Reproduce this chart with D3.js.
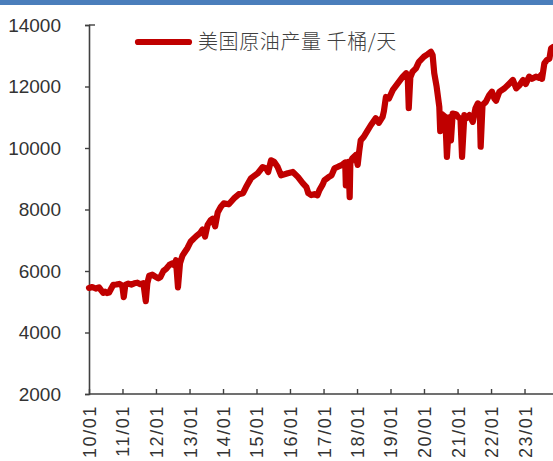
<!DOCTYPE html>
<html>
<head>
<meta charset="utf-8">
<script src="https://cdn.jsdelivr.net/npm/d3@7/dist/d3.min.js"></script>
<style>
  html, body { margin: 0; padding: 0; background: #fff; }
  svg { display: block; }
</style>
</head>
<body>
<svg id="chart" width="553" height="461"></svg>
<script>
// US crude oil field production, thousand barrels per day (weekly readings)
const dates = [
  "2010-01-01","2010-02-05","2010-03-15","2010-04-20","2010-05-12","2010-06-05","2010-06-25","2010-07-17",
  "2010-08-08","2010-08-30","2010-09-22","2010-10-25","2010-11-27","2010-12-30","2011-01-15","2011-02-01",
  "2011-03-05","2011-04-07","2011-05-10","2011-06-12","2011-07-15","2011-08-17","2011-09-12","2011-09-29",
  "2011-10-20","2011-11-22","2011-12-25","2012-01-27","2012-02-18","2012-03-22","2012-04-24","2012-05-27",
  "2012-06-29","2012-07-21","2012-08-06","2012-08-28","2012-09-19","2012-10-16","2012-11-07","2012-12-10",
  "2013-01-12","2013-02-14","2013-03-26","2013-05-01","2013-05-23","2013-06-19","2013-07-17","2013-08-19",
  "2013-09-10","2013-10-07","2013-11-04","2013-12-07","2014-01-09","2014-03-05","2014-04-30","2014-06-24",
  "2014-08-07","2014-09-09","2014-11-03","2015-01-15","2015-03-10","2015-04-15","2015-05-08","2015-06-09",
  "2015-07-12","2015-08-20","2015-09-26","2015-12-08","2016-02-01","2016-03-27","2016-05-21","2016-06-28",
  "2016-07-19","2016-08-21","2016-09-23","2016-10-26","2016-11-17","2016-12-20","2017-01-11","2017-02-24",
  "2017-03-29","2017-05-01","2017-06-14","2017-07-17","2017-08-25","2017-09-01","2017-09-08","2017-09-29",
  "2017-10-13","2017-10-20","2017-11-10","2017-12-17","2018-01-08","2018-01-25","2018-02-10","2018-03-15",
  "2018-04-22","2018-05-31","2018-07-25","2018-08-27","2018-10-07","2018-10-21","2018-11-12","2018-12-15",
  "2019-01-25","2019-03-21","2019-05-15","2019-06-21","2019-07-08","2019-07-19","2019-08-05","2019-08-29",
  "2019-10-05","2019-11-07","2020-01-01","2020-02-10","2020-03-17","2020-04-04","2020-04-22","2020-05-18",
  "2020-06-16","2020-06-26","2020-07-14","2020-08-20","2020-09-07","2020-10-03","2020-10-21","2020-11-09",
  "2020-12-15","2021-01-09","2021-02-02","2021-02-19","2021-03-16","2021-04-03","2021-05-10","2021-06-16",
  "2021-07-15","2021-08-10","2021-08-30","2021-09-10","2021-09-30","2021-11-05","2021-12-12","2022-01-11",
  "2022-02-07","2022-02-25","2022-04-02","2022-05-27","2022-07-21","2022-08-27","2022-10-03","2022-11-09",
  "2022-12-16","2023-01-15","2023-02-21","2023-03-23","2023-05-05","2023-06-08","2023-06-30","2023-07-11",
  "2023-08-05","2023-09-01","2023-09-29","2023-10-18","2023-11-12"
];
const production = [
  5450, 5480, 5430, 5470, 5380, 5290, 5330, 5280,
  5300, 5420, 5550, 5560, 5580, 5520, 5150, 5550,
  5590, 5560, 5600, 5620, 5570, 5600, 5020, 5600,
  5850, 5880, 5820, 5760, 5800, 6000, 6080, 6200,
  6250, 6180, 6350, 5470, 6250, 6500, 6600, 6750,
  6950, 7050, 7160, 7250, 7350, 7120, 7500, 7650,
  7700, 7450, 7900, 8080, 8200, 8170, 8360, 8500,
  8530, 8730, 9020, 9180, 9380, 9340, 9220, 9600,
  9550, 9380, 9110, 9180, 9220, 9060, 8850, 8730,
  8530, 8470, 8500, 8460, 8630, 8800, 8950, 9050,
  9110, 9340, 9400, 9440, 9530, 8780, 9350, 9550,
  8400, 9500, 9660, 9770, 9450, 9900, 10250, 10360,
  10550, 10740, 10970, 10820, 11010, 11200, 11660, 11610,
  11880, 12100, 12320, 12430, 12300, 11300, 12300, 12480,
  12590, 12800, 12970, 13050, 13130, 13020, 12430, 11990,
  11340, 10550, 11100, 11010, 9710, 11000, 10250, 11120,
  11100, 11000, 10950, 9710, 11070, 10960, 11070, 10850,
  11290, 11450, 11400, 10040, 11400, 11500, 11720, 11830,
  11600, 11540, 11830, 11940, 12100, 12210, 11940, 12050,
  12210, 12080, 12320, 12250, 12320, 12280, 12370, 12250,
  12750, 12860, 12900, 13240, 13290
];
const yTicks = [2000, 4000, 6000, 8000, 10000, 12000, 14000];
const tickYears = [2010, 2011, 2012, 2013, 2014, 2015, 2016, 2017, 2018, 2019, 2020, 2021, 2022, 2023];
const seriesName = "美国原油产量 千桶/天";

const parse = d3.timeParse("%Y-%m-%d");
const series = dates.map((d, i) => ({ date: parse(d), value: production[i] }));

const svg = d3.select("#chart");
const axisColor = "#404040";

// header rule
svg.append("rect").attr("x", 0).attr("y", 0).attr("width", 553).attr("height", 5).attr("fill", "#4a7ebb");

const plotLeft = 89, plotBottom = 394, plotTop = 25;
const x = d3.scaleTime()
  .domain([new Date(2010, 0, 1), new Date(2024, 0, 1)])
  .range([plotLeft, plotLeft + 14 * 33.5]);
const y = d3.scaleLinear().domain([2000, 14000]).range([plotBottom, plotTop]);

// y axis
const yAxis = d3.axisLeft(y).tickValues(yTicks).tickSize(4).tickPadding(24).tickFormat(d3.format("d"));
const gy = svg.append("g").attr("transform", `translate(${plotLeft},0)`).call(yAxis);
gy.select(".domain").attr("stroke", axisColor).attr("stroke-width", 1.6);
gy.selectAll(".tick line").attr("stroke", axisColor).attr("stroke-width", 1.4);
gy.selectAll(".tick text")
  .attr("fill", "#333")
  .style("font-family", "'Liberation Sans', Arial, sans-serif")
  .style("font-size", "19px");
// short cap at the top of the value axis
svg.append("line")
  .attr("x1", plotLeft).attr("x2", plotLeft + 6)
  .attr("y1", y(14000)).attr("y2", y(14000))
  .attr("stroke", axisColor).attr("stroke-width", 1.4);

// x axis
const xAxis = d3.axisTop(x)
  .tickValues(tickYears.map(yr => new Date(yr, 0, 1)))
  .tickSize(5)
  .tickFormat(d3.timeFormat("%y/%m"));
const gx = svg.append("g").attr("transform", `translate(0,${plotBottom})`).call(xAxis);
gx.select(".domain").remove();
svg.append("line")
  .attr("x1", plotLeft).attr("x2", 553)
  .attr("y1", plotBottom).attr("y2", plotBottom)
  .attr("stroke", axisColor).attr("stroke-width", 1.6);
gx.selectAll(".tick line").attr("stroke", axisColor).attr("stroke-width", 1.4);
gx.selectAll(".tick text")
  .attr("fill", "#333")
  .attr("transform", "rotate(-90)")
  .attr("text-anchor", "end")
  .attr("x", -11)
  .attr("y", 0)
  .attr("dy", "0.36em")
  .style("letter-spacing", "1.6px")
  .style("font-family", "'Liberation Sans', Arial, sans-serif")
  .style("font-size", "18px");

// production line
const line = d3.line().x(d => x(d.date)).y(d => y(d.value));
svg.append("path")
  .datum(series)
  .attr("d", line)
  .attr("fill", "none")
  .attr("stroke", "#c00000")
  .attr("stroke-width", 6.2)
  .attr("stroke-linejoin", "round")
  .attr("stroke-linecap", "round");

// legend
const lg = svg.append("g");
lg.append("line")
  .attr("x1", 138).attr("x2", 189).attr("y1", 42).attr("y2", 42)
  .attr("stroke", "#c00000").attr("stroke-width", 6.2).attr("stroke-linecap", "round");
lg.append("text")
  .attr("x", 198).attr("y", 42).attr("dy", "0.36em")
  .attr("fill", "#404040")
  .style("font-family", "'Noto Sans CJK SC', sans-serif")
  .style("font-weight", 300)
  .style("font-size", "20px")
  .style("letter-spacing", "0.6px")
  .text(seriesName);
</script>
</body>
</html>
